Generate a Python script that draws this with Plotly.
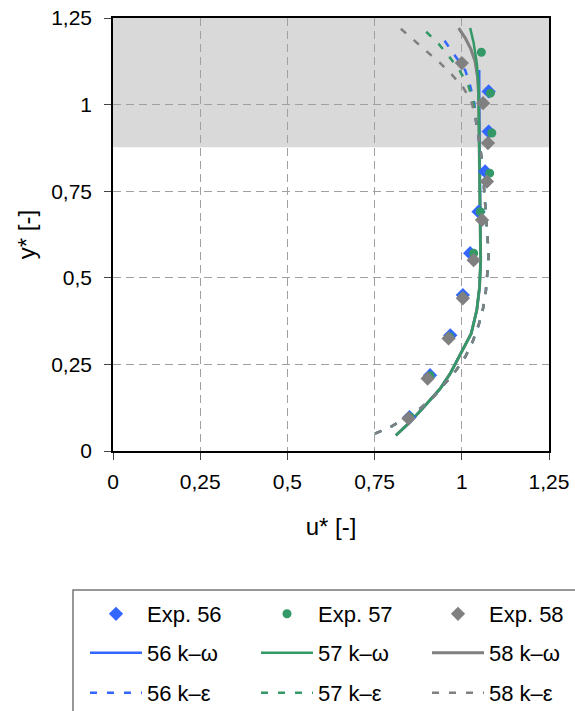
import plotly.graph_objects as go

# ---------------- data ----------------
tick_vals = [0, 0.25, 0.5, 0.75, 1, 1.25]
tick_text = ["0", "0,25", "0,5", "0,75", "1", "1,25"]

band_y = [0.877, 1.25]  # shaded region (y*)

exp56_u = [0.850, 0.909, 0.967, 1.003, 1.024, 1.048, 1.067, 1.077, 1.077]
exp56_y = [0.098, 0.219, 0.334, 0.450, 0.571, 0.691, 0.807, 0.922, 1.038]

exp57_u = [0.852, 0.909, 0.965, 1.003, 1.034, 1.053, 1.080, 1.086, 1.082, 1.056]
exp57_y = [0.098, 0.217, 0.330, 0.445, 0.571, 0.691, 0.802, 0.918, 1.033, 1.151]

exp58_u = [0.847, 0.902, 0.962, 1.003, 1.034, 1.058, 1.072, 1.075, 1.061, 1.000]
exp58_y = [0.094, 0.209, 0.325, 0.441, 0.551, 0.667, 0.778, 0.889, 1.004, 1.120]

# k-omega (solid)
kw_low_y = [0.045, 0.084, 0.137, 0.180, 0.224, 0.285, 0.339, 0.407, 0.474, 0.551, 0.65, 0.75, 0.85, 0.95]
kw_low_u = [0.811, 0.852, 0.900, 0.938, 0.967, 1.000, 1.027, 1.043, 1.051, 1.054, 1.053, 1.052, 1.050, 1.049]

kw56_u = kw_low_u + [1.050, 1.050]
kw56_y = kw_low_y + [1.03, 1.10]
kw57_u = kw_low_u + [1.048, 1.043, 1.034, 1.024]
kw57_y = kw_low_y + [1.062, 1.120, 1.178, 1.221]
kw58_u = kw_low_u + [1.048, 1.045, 1.038, 1.026, 1.010, 0.991]
kw58_y = kw_low_y + [1.033, 1.080, 1.125, 1.160, 1.192, 1.221]

# k-epsilon (dashed)
ke_low_y = [0.050, 0.071, 0.100, 0.123, 0.156, 0.195, 0.233, 0.272, 0.318, 0.366, 0.412, 0.462,
            0.512, 0.561, 0.614, 0.660, 0.710, 0.760, 0.810, 0.860, 0.910, 0.956]
ke_low_u = [0.751, 0.799, 0.845, 0.881, 0.919, 0.952, 0.984, 1.010, 1.032, 1.049, 1.061, 1.069,
            1.074, 1.077, 1.074, 1.071, 1.067, 1.063, 1.060, 1.055, 1.048, 1.040]

ke56_u = ke_low_u + [1.036, 1.024, 1.010, 0.981, 0.952, 0.945]
ke56_y = ke_low_y + [1.004, 1.054, 1.099, 1.141, 1.182, 1.192]
ke57_u = ke_low_u + [1.034, 1.019, 0.995, 0.965, 0.933, 0.890]
ke57_y = ke_low_y + [1.004, 1.054, 1.096, 1.137, 1.176, 1.218]
ke58_u = ke_low_u + [1.029, 1.005, 0.972, 0.936, 0.900, 0.861, 0.823]
ke58_y = ke_low_y + [1.004, 1.048, 1.086, 1.122, 1.153, 1.187, 1.221]

BLUE = "#3366ff"
GREEN = "#339966"
GRAY = "#808080"
FONT = "Liberation Sans, Arial, sans-serif"

fig = go.Figure()

# solid k-omega lines
fig.add_trace(go.Scatter(x=kw56_u, y=kw56_y, mode="lines", name="56 k–ω",
                         line=dict(color=BLUE, width=2.5), legend="legend2", legendrank=1))
fig.add_trace(go.Scatter(x=kw58_u, y=kw58_y, mode="lines", name="58 k–ω",
                         line=dict(color=GRAY, width=3), legend="legend2", legendrank=3))
fig.add_trace(go.Scatter(x=kw57_u, y=kw57_y, mode="lines", name="57 k–ω",
                         line=dict(color=GREEN, width=2.5), legend="legend2", legendrank=2))
# dashed k-epsilon lines
fig.add_trace(go.Scatter(x=ke56_u, y=ke56_y, mode="lines", name="56 k–ε",
                         line=dict(color=BLUE, width=2.5, dash="7px,10px"), legend="legend3", legendrank=1))
fig.add_trace(go.Scatter(x=ke57_u, y=ke57_y, mode="lines", name="57 k–ε",
                         line=dict(color=GREEN, width=2.5, dash="7px,10px"), legend="legend3", legendrank=2))
fig.add_trace(go.Scatter(x=ke58_u, y=ke58_y, mode="lines", name="58 k–ε",
                         line=dict(color=GRAY, width=2.5, dash="7px,10px"), legend="legend3", legendrank=3))
# experiments
fig.add_trace(go.Scatter(x=exp56_u, y=exp56_y, mode="markers", name="Exp. 56",
                         marker=dict(symbol="diamond", size=11, color=BLUE), legend="legend", legendrank=1))
fig.add_trace(go.Scatter(x=exp57_u, y=exp57_y, mode="markers", name="Exp. 57",
                         marker=dict(symbol="circle", size=9, color=GREEN), legend="legend", legendrank=2))
fig.add_trace(go.Scatter(x=exp58_u, y=exp58_y, mode="markers", name="Exp. 58",
                         marker=dict(symbol="diamond", size=11, color=GRAY), legend="legend", legendrank=3))

# shaded band
fig.add_shape(type="rect", xref="paper", yref="y", x0=0, x1=1, y0=band_y[0], y1=band_y[1],
              fillcolor="#d9d9d9", line=dict(width=0), layer="below")

# legend frame (extends beyond the page like the original)
PW, PH, L, T = 436, 433, 113, 18
def px_x(p):
    return (p - L) / PW
def px_y(p):
    return (T + PH - p) / PH

fig.add_shape(type="rect", xref="paper", yref="paper", x0=px_x(73), x1=px_x(620),
              y0=px_y(590), y1=px_y(760), line=dict(color="#777777", width=1.5),
              fillcolor="rgba(0,0,0,0)")

leg_common = dict(orientation="h", xanchor="left", yanchor="middle", entrywidth=104,
                  entrywidthmode="pixels", itemwidth=52, bgcolor="rgba(0,0,0,0)", borderwidth=0,
                  font=dict(family=FONT, size=22, color="black"), x=px_x(85))

axis_common = dict(range=[0, 1.25], tickvals=tick_vals, ticktext=tick_text, showgrid=True,
                   gridcolor="#a0a0a0", griddash="8px,5px", gridwidth=1, zeroline=False,
                   showline=True, linecolor="black", linewidth=1.5, mirror=True,
                   ticks="outside", ticklen=7, tickcolor="#444444", tickwidth=1,
                   tickfont=dict(family=FONT, size=21, color="black"))

fig.update_layout(
    width=575, height=711,
    margin=dict(l=L, r=575 - L - PW, t=T, b=711 - T - PH, autoexpand=False),
    paper_bgcolor="white", plot_bgcolor="white",
    separators=",.",
    showlegend=True,
    legend=dict(leg_common, y=px_y(614)),
    legend2=dict(leg_common, y=px_y(653)),
    legend3=dict(leg_common, y=px_y(693)),
    xaxis=dict(axis_common, title=dict(text="u* [-]", font=dict(family=FONT, size=24, color="black"), standoff=26),
               ticklabelstandoff=4),
    yaxis=dict(axis_common, title=dict(text="y* [-]", font=dict(family=FONT, size=24, color="black"), standoff=9),
               ticklabelstandoff=8),
)

fig.write_html("out.html")
